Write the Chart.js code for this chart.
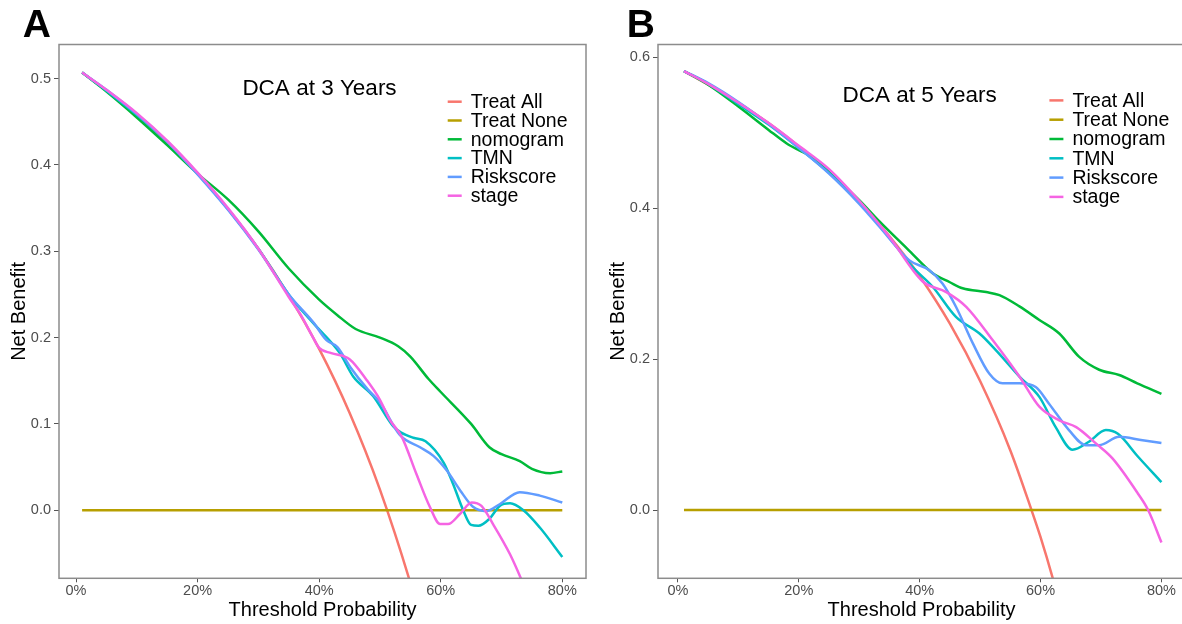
<!DOCTYPE html>
<html>
<head>
<meta charset="utf-8">
<script src="https://cdn.jsdelivr.net/npm/chart.js@4.4.1/dist/chart.umd.min.js"></script>
<style>
  html, body { margin: 0; padding: 0; background: #fff; overflow: hidden; width: 1182px; height: 624px; }
  canvas { position: absolute; top: 0; }
  #chartA { left: 0; }
  #chartB { left: 599px; }
</style>
</head>
<body>
<canvas id="chartA" width="600" height="624"></canvas>
<canvas id="chartB" width="600" height="624"></canvas>
<script>
// series names + ggplot hue colours
const seriesNames = ['Treat All', 'Treat None', 'nomogram', 'TMN', 'Riskscore', 'stage']
const seriesColors = ['#F8766D', '#B79F00', '#00BA38', '#00BFC4', '#619CFF', '#F564E3']

const xTicks = [0, 0.2, 0.4, 0.6, 0.8]
const yTicksA = [0, 0.1, 0.2, 0.3, 0.4, 0.5]
const yTicksB = [0, 0.2, 0.4, 0.6]

// =======================================
// PANEL A - DCA at 3 years  [threshold, net benefit]
// =======================================
const aTreatAll = [[0.01,0.507],[0.05,0.486],[0.10,0.458],[0.15,0.426],[0.20,0.390],[0.25,0.349],[0.30,0.303],[0.35,0.249],[0.40,0.187],[0.45,0.113],[0.50,0.024],[0.55,-0.084],[0.57,-0.135]]
const aTreatNone = [[0.01,0],[0.80,0]]
const aNomogram = [[0.01,0.507],[0.05,0.485],[0.10,0.455],[0.15,0.423],[0.20,0.390],[0.25,0.360],[0.30,0.323],[0.35,0.280],[0.40,0.244],[0.43,0.226],[0.46,0.210],[0.50,0.200],[0.53,0.190],[0.55,0.178],[0.58,0.152],[0.60,0.137],[0.65,0.100],[0.68,0.073],[0.70,0.065],[0.73,0.057],[0.75,0.048],[0.78,0.043],[0.80,0.045]]
const aTMN = [[0.01,0.507],[0.05,0.486],[0.10,0.458],[0.15,0.427],[0.20,0.390],[0.25,0.349],[0.30,0.303],[0.352,0.248],[0.39,0.217],[0.434,0.182],[0.456,0.155],[0.489,0.132],[0.522,0.097],[0.535,0.090],[0.555,0.084],[0.575,0.080],[0.605,0.055],[0.62,0.031],[0.637,0.0],[0.65,-0.017],[0.662,-0.018],[0.68,-0.010],[0.697,0.005],[0.714,0.008],[0.736,0.0],[0.763,-0.020],[0.80,-0.054]]
const aRiskscore = [[0.01,0.507],[0.05,0.487],[0.10,0.459],[0.15,0.427],[0.20,0.389],[0.25,0.348],[0.30,0.302],[0.35,0.250],[0.39,0.218],[0.412,0.197],[0.43,0.189],[0.451,0.166],[0.48,0.140],[0.50,0.125],[0.533,0.087],[0.566,0.073],[0.588,0.063],[0.61,0.046],[0.632,0.023],[0.653,0.004],[0.675,-0.001],[0.697,0.007],[0.73,0.021],[0.763,0.017],[0.80,0.009]]
const aStage = [[0.01,0.507],[0.05,0.487],[0.10,0.460],[0.15,0.428],[0.20,0.391],[0.25,0.350],[0.30,0.303],[0.35,0.247],[0.37,0.226],[0.39,0.200],[0.40,0.188],[0.42,0.182],[0.45,0.175],[0.478,0.151],[0.50,0.128],[0.516,0.105],[0.536,0.085],[0.56,0.042],[0.582,0.004],[0.599,-0.016],[0.612,-0.016],[0.632,-0.004],[0.651,0.009],[0.667,0.005],[0.686,-0.016],[0.714,-0.051],[0.735,-0.084],[0.75,-0.11]]

// =======================================
// PANEL B - DCA at 5 years
// =======================================
const bTreatAll = [[0.01,0.582],[0.05,0.564],[0.10,0.540],[0.15,0.513],[0.20,0.482],[0.25,0.448],[0.30,0.408],[0.35,0.363],[0.40,0.310],[0.45,0.247],[0.50,0.171],[0.55,0.079],[0.585,0.0],[0.60,-0.036],[0.62,-0.090],[0.64,-0.151]]
const bTreatNone = [[0.01,0],[0.80,0]]
const bNomogram = [[0.01,0.582],[0.05,0.564],[0.10,0.535],[0.15,0.504],[0.18,0.486],[0.20,0.477],[0.22,0.469],[0.25,0.448],[0.30,0.411],[0.333,0.383],[0.38,0.346],[0.4215,0.314],[0.45,0.302],[0.471,0.294],[0.51,0.289],[0.532,0.285],[0.565,0.270],[0.598,0.252],[0.631,0.234],[0.664,0.203],[0.697,0.186],[0.73,0.179],[0.76,0.168],[0.80,0.154]]
const bTMN = [[0.01,0.582],[0.05,0.565],[0.10,0.538],[0.15,0.511],[0.20,0.480],[0.25,0.447],[0.30,0.408],[0.35,0.361],[0.388,0.3225],[0.4215,0.296],[0.46,0.256],[0.499,0.234],[0.526,0.212],[0.565,0.177],[0.598,0.150],[0.625,0.110],[0.653,0.080],[0.68,0.0905],[0.708,0.106],[0.728,0.101],[0.761,0.071],[0.80,0.037]]
const bRiskscore = [[0.01,0.582],[0.05,0.566],[0.10,0.541],[0.15,0.512],[0.20,0.480],[0.25,0.446],[0.30,0.406],[0.333,0.376],[0.383,0.331],[0.416,0.318],[0.438,0.300],[0.46,0.2695],[0.488,0.221],[0.515,0.181],[0.537,0.168],[0.565,0.168],[0.592,0.163],[0.614,0.141],[0.647,0.106],[0.675,0.086],[0.697,0.086],[0.73,0.097],[0.766,0.093],[0.80,0.089]]
const bStage = [[0.01,0.582],[0.05,0.565],[0.10,0.540],[0.15,0.513],[0.20,0.483],[0.25,0.452],[0.30,0.410],[0.35,0.362],[0.405,0.303],[0.444,0.289],[0.477,0.2695],[0.521,0.225],[0.565,0.177],[0.598,0.137],[0.631,0.119],[0.659,0.110],[0.692,0.088],[0.719,0.0685],[0.761,0.022],[0.778,0.0],[0.80,-0.043]]

const FONT = 'Liberation Sans, Arial, sans-serif'

// frame, panel letter, inner title and legend
const decorPlugin = {
  id: 'decor',
  afterDatasetsDraw(chart, args, opts) {
    const { ctx, chartArea: a } = chart
    ctx.save()
    ctx.strokeStyle = '#8c8c8c'
    ctx.lineWidth = 1.5
    ctx.strokeRect(a.left, a.top, a.right - a.left, a.bottom - a.top)

    ctx.fillStyle = '#000'
    ctx.font = 'bold 39px ' + FONT
    ctx.textAlign = 'left'
    ctx.textBaseline = 'alphabetic'
    ctx.fillText(opts.letter, opts.letterX, 37.3)

    ctx.font = '22.5px ' + FONT
    ctx.textAlign = 'center'
    ctx.textBaseline = 'middle'
    ctx.fillText(opts.title, opts.titleX, opts.titleY)

    ctx.font = '19.5px ' + FONT
    ctx.textAlign = 'left'
    chart.data.datasets.forEach((ds, i) => {
      const y = opts.legY + i * opts.legStep
      ctx.strokeStyle = ds.borderColor
      ctx.lineWidth = 2.5
      ctx.beginPath()
      ctx.moveTo(opts.legX, y)
      ctx.lineTo(opts.legX + 14, y)
      ctx.stroke()
      ctx.fillStyle = '#000'
      ctx.fillText(ds.label, opts.legX + 23, y + 1)
    })
    ctx.restore()
  }
}

function makeDatasets(series) {
  return series.map((pts, i) => ({
    label: seriesNames[i],
    data: pts.map(p => ({ x: p[0], y: p[1] })),
    borderColor: seriesColors[i],
    borderWidth: 2.5,
    pointRadius: 0,
    fill: false,
    cubicInterpolationMode: 'monotone',
    order: 5 - i
  }))
}

function makeOptions(cfg) {
  return {
    responsive: false,
    animation: false,
    devicePixelRatio: 1,
    layout: { padding: { left: 0, top: 44.5, right: 14, bottom: 0 } },
    plugins: {
      legend: { display: false },
      tooltip: { enabled: false },
      decor: cfg
    },
    scales: {
      x: {
        type: 'linear',
        min: cfg.xMin,
        max: cfg.xMax,
        afterBuildTicks: s => { s.ticks = xTicks.map(v => ({ value: v })) },
        afterFit: s => { s.height = 45.7 },
        grid: { drawOnChartArea: false, drawTicks: true, tickLength: 4, tickColor: '#555', tickWidth: 1 },
        border: { display: false },
        ticks: {
          callback: v => Math.round(v * 100) + '%',
          color: '#4d4d4d',
          font: { family: FONT, size: 14.5 },
          padding: 0,
          maxRotation: 0,
          autoSkip: false
        },
        title: {
          display: true,
          text: 'Threshold Probability',
          color: '#000',
          font: { family: FONT, size: 20, lineHeight: 1.2 },
          padding: { top: 0, bottom: 2 }
        }
      },
      y: {
        min: cfg.yMin,
        max: cfg.yMax,
        afterBuildTicks: s => { s.ticks = cfg.yTicks.map(v => ({ value: v })) },
        afterFit: s => { s.width = 59 },
        grid: { drawOnChartArea: false, drawTicks: true, tickLength: 5, tickColor: '#555', tickWidth: 1 },
        border: { display: false },
        ticks: {
          callback: v => v.toFixed(1),
          color: '#4d4d4d',
          font: { family: FONT, size: 14.5 },
          padding: 3,
          autoSkip: false
        },
        title: {
          display: true,
          text: 'Net Benefit',
          color: '#000',
          font: { family: FONT, size: 20, lineHeight: 1.2 },
          padding: { top: 7, bottom: 0 }
        }
      }
    }
  }
}

new Chart(document.getElementById('chartA'), {
  type: 'line',
  data: { datasets: makeDatasets([aTreatAll, aTreatNone, aNomogram, aTMN, aRiskscore, aStage]) },
  options: makeOptions({
    xMin: -0.028, xMax: 0.839, yMin: -0.0788, yMax: 0.5395, yTicks: yTicksA,
    letter: 'A', letterX: 22.7,
    title: 'DCA at 3 Years', titleX: 319.5, titleY: 88.3,
    legX: 447.7, legY: 101.7, legStep: 18.8
  }),
  plugins: [decorPlugin]
})

new Chart(document.getElementById('chartB'), {
  type: 'line',
  data: { datasets: makeDatasets([bTreatAll, bTreatNone, bNomogram, bTMN, bRiskscore, bStage]) },
  options: makeOptions({
    xMin: -0.033, xMax: 0.839, yMin: -0.0905, yMax: 0.6172, yTicks: yTicksB,
    letter: 'B', letterX: 27.7,
    title: 'DCA at 5 Years', titleX: 320.7, titleY: 95.6,
    legX: 450.4, legY: 100.4, legStep: 19.3
  }),
  plugins: [decorPlugin]
})
</script>
</body>
</html>
